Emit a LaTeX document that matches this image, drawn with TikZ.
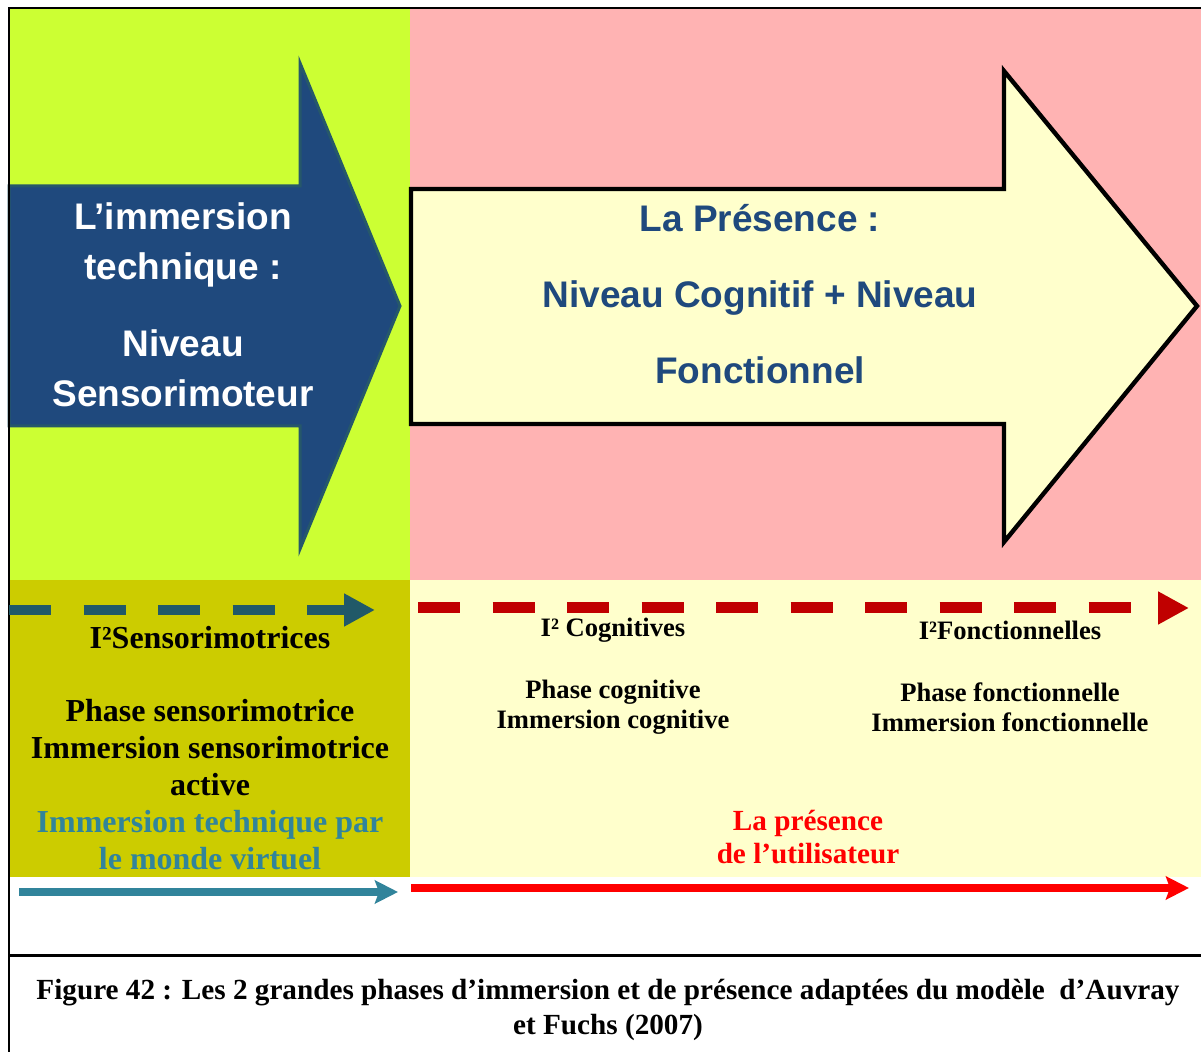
\documentclass[tikz,border=0pt]{standalone}
\usepackage{fontspec}
\setmainfont{Liberation Serif}
\setsansfont{Liberation Sans}
\usetikzlibrary{arrows.meta}
\definecolor{grnbg}{RGB}{204,255,51}
\definecolor{pinkbg}{RGB}{255,179,179}
\definecolor{olivebg}{RGB}{204,204,0}
\definecolor{creambg}{RGB}{255,255,204}
\definecolor{navyarr}{RGB}{31,73,125}
\definecolor{navyedge}{RGB}{38,88,106}
\definecolor{titleblue}{RGB}{31,73,125}
\definecolor{teald}{RGB}{33,89,104}
\definecolor{tealt}{RGB}{49,132,155}
\definecolor{redd}{RGB}{192,0,0}

\begin{document}
\begin{tikzpicture}[x=0.5pt, y=-0.5pt, >={Triangle[length=15.5pt,width=15.5pt]}, head/.style={font=\sffamily\bfseries\fontsize{18.5}{25}\selectfont, align=center, inner sep=0pt}, lbl/.style={font=\bfseries\fontsize{13.3}{15}\selectfont, align=center, inner sep=0pt}, lblbig/.style={font=\bfseries\fontsize{16}{18.5}\selectfont, align=center, inner sep=0pt}, dashedarr/.style={line width=5pt, dash pattern=on 21pt off 16.25pt, ->}, solidarr/.style={line width=4pt, -{Stealth[length=11.5pt,width=11.5pt,inset=2pt]}}]
	\clip (0,0) rectangle (1201,1052);
	\fill[white] (0,0) rectangle (1201,1052);
	\fill[grnbg] (9,8) rectangle (410,580);
	\fill[pinkbg] (410,8) rectangle (1230,580);
	\fill[olivebg] (9,580) rectangle (410,877);
	\fill[creambg] (410,580) rectangle (1230,877);
	\draw[navyedge, fill=navyarr, line width=1.5pt] (9,186) -- (300,186) -- (300,63) -- (400,306) -- (300,549) -- (300,426) -- (9,426) -- cycle;
	\draw[fill=creambg, line width=2.2pt] (411,189) -- (1004,189) -- (1004,71) -- (1197,306) -- (1004,542) -- (1004,424) -- (411,424) -- cycle;
	\draw[line width=1pt] (9,8) rectangle (1240,1080);
	\draw[line width=1.5pt] (9,956) -- (1240,956);
	\node[head, text=white] (immtech) at (183,245) {L’immersion\\technique :};
	\node[head, text=white] (sensmot) at (183,368) {Niveau\\Sensorimoteur};
	\node[head, text=titleblue, font=\sffamily\bfseries\fontsize{18.5}{38}\selectfont] (presence) at (760,294) {La Présence :\\Niveau Cognitif + Niveau\\Fonctionnel};
	\node[lblbig] (isens) at (210,638) {I²Sensorimotrices};
	\node[lblbig] (phsens) at (210,785) {Phase sensorimotrice\\Immersion sensorimotrice\\active\\\textcolor{tealt}{Immersion technique par}\\\textcolor{tealt}{le monde virtuel}};
	\node[lbl] (icog) at (613,630) {I² Cognitives};
	\node[lbl] (phcog) at (613,707) {Phase cognitive\\Immersion cognitive};
	\node[lbl] (ifonc) at (1010,630) {I²Fonctionnelles};
	\node[lbl] (phfonc) at (1010,707) {Phase fonctionnelle\\Immersion fonctionnelle};
	\node[lbl, text=red, font=\bfseries\fontsize{14.6}{16.5}\selectfont] (presuser) at (808,837) {La présence\\de l’utilisateur};
	\node[lbl, font=\bfseries\fontsize{14.6}{17.5}\selectfont] (caption) at (608,1010) {Figure 42 : Les 2 grandes phases d’immersion et de présence adaptées du modèle~ d’Auvray\\et Fuchs (2007)};
	\coordinate (sensA) at (9,610);
	\coordinate (sensB) at (375,610);
	\coordinate (cogA) at (418,608);
	\coordinate (cogB) at (1189,608);
	\coordinate (techA) at (19,892);
	\coordinate (techB) at (398,892);
	\coordinate (userA) at (411,888);
	\coordinate (userB) at (1189,888);
	\draw[teald, dashedarr] (sensA) -- (sensB);
	\draw[redd, dashedarr, line width=5.5pt] (cogA) -- (cogB);
	\draw[tealt, solidarr] (techA) -- (techB);
	\draw[red, solidarr] (userA) -- (userB);
\end{tikzpicture}
\end{document}
